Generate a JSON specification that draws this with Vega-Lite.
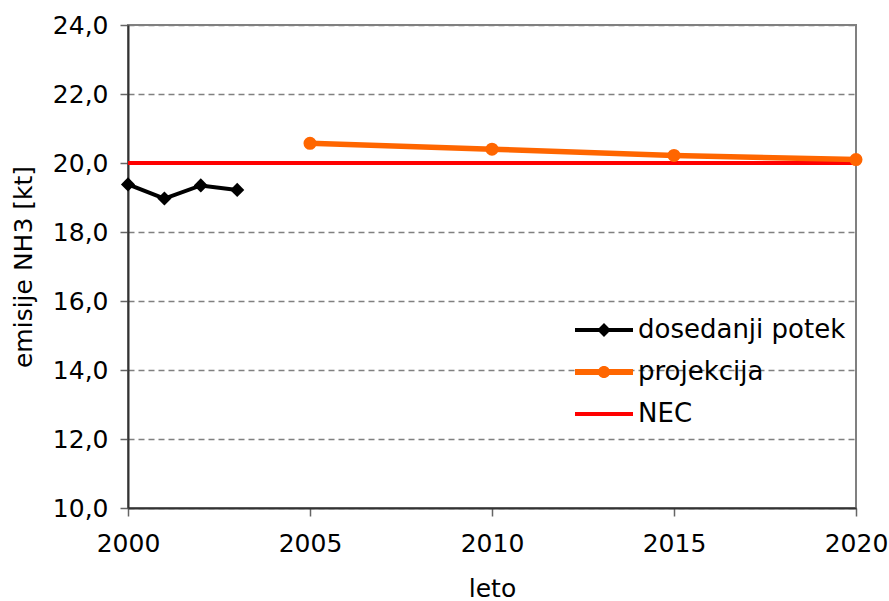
{
  "$schema": "https://vega.github.io/schema/vega-lite/v6.json",
  "width": 728,
  "height": 483,
  "autosize": "none",
  "padding": {"left": 128, "top": 25, "right": 33, "bottom": 93},
  "background": "white",
  "config": {
    "font": "DejaVu Sans",
    "view": {"stroke": "#808080", "strokeWidth": 2},
    "axis": {"labelFont": "DejaVu Sans", "titleFont": "DejaVu Sans", "labelFontSize": 25, "titleFontSize": 25, "labelColor": "#000", "titleColor": "#000", "titleFontWeight": "normal", "domainColor": "#333", "domainWidth": 2, "tickColor": "#666", "tickWidth": 1.5}
  },
  "data": {"values": [
    {"year": 2000, "value": 19.38, "series": "dosedanji potek"},
    {"year": 2001, "value": 18.97, "series": "dosedanji potek"},
    {"year": 2002, "value": 19.35, "series": "dosedanji potek"},
    {"year": 2003, "value": 19.22, "series": "dosedanji potek"},
    {"year": 2005, "value": 20.57, "series": "projekcija"},
    {"year": 2010, "value": 20.4, "series": "projekcija"},
    {"year": 2015, "value": 20.22, "series": "projekcija"},
    {"year": 2020, "value": 20.1, "series": "projekcija"},
    {"year": 2000, "value": 20.0, "series": "NEC"},
    {"year": 2020, "value": 20.0, "series": "NEC"}
  ]},
  "encoding": {
    "x": {"field": "year", "type": "quantitative", "scale": {"domain": [2000, 2020], "nice": false, "zero": false},
      "axis": {"title": "leto", "values": [2000, 2005, 2010, 2015, 2020], "format": "d", "grid": false, "tickSize": 8, "labelPadding": 15, "titlePadding": 20, "labelFlush": false}},
    "y": {"field": "value", "type": "quantitative", "scale": {"domain": [10, 24], "nice": false, "zero": false},
      "axis": {"title": "emisije NH3 [kt]", "values": [10, 12, 14, 16, 18, 20, 22, 24], "labelExpr": "replace(format(datum.value, '.1f'), '.', ',')", "grid": true, "gridDash": [6, 4], "gridColor": "#808080", "gridWidth": 1.5, "tickSize": 8, "labelPadding": 12, "titlePadding": 16}}
  },
  "layer": [
    {"transform": [{"filter": "datum.series == 'NEC'"}], "mark": {"type": "line", "color": "#FF0000", "strokeWidth": 4}, "encoding": {}},
    {"transform": [{"filter": "datum.series == 'dosedanji potek'"}], "mark": {"type": "line", "color": "#000000", "strokeWidth": 4}, "encoding": {}},
    {"transform": [{"filter": "datum.series == 'dosedanji potek'"}], "mark": {"type": "point", "shape": "diamond", "filled": true, "color": "#000000", "size": 200, "opacity": 1}, "encoding": {}},
    {"transform": [{"filter": "datum.series == 'projekcija'"}], "mark": {"type": "line", "color": "#FF6600", "strokeWidth": 5.5}, "encoding": {}},
    {"transform": [{"filter": "datum.series == 'projekcija'"}], "mark": {"type": "point", "shape": "circle", "filled": true, "color": "#FF6600", "size": 170, "opacity": 1}, "encoding": {}},
    {"mark": {"type": "point", "filled": true, "opacity": 0, "size": 3364},
      "encoding": {
        "shape": {"field": "series", "type": "nominal",
          "scale": {"domain": ["dosedanji potek", "projekcija", "NEC"],
            "range": ["M-1,-0.069H1V0.069H-1Z M0,-0.24L0.24,0L0,0.24L-0.24,0Z", "M-1,-0.1H1V0.1H-1Z M-0.21,0A0.21,0.21 0 1,1 0.21,0A0.21,0.21 0 1,1 -0.21,0Z", "M-1,-0.069H1V0.069H-1Z"]},
          "legend": {"title": null, "orient": "none", "legendX": 447, "legendY": 276, "padding": 0, "rowPadding": -18, "symbolSize": 3364, "symbolOpacity": 1, "symbolStrokeWidth": 0, "labelFontSize": 26, "labelFont": "DejaVu Sans", "labelColor": "#000", "labelOffset": 5, "labelLimit": 400,
            "encode": {"symbols": {"update": {"opacity": {"value": 1}, "fillOpacity": {"value": 1}}}}}},
        "color": {"field": "series", "type": "nominal",
          "scale": {"domain": ["dosedanji potek", "projekcija", "NEC"], "range": ["#000000", "#FF6600", "#FF0000"]}}
      }}
  ]
}
